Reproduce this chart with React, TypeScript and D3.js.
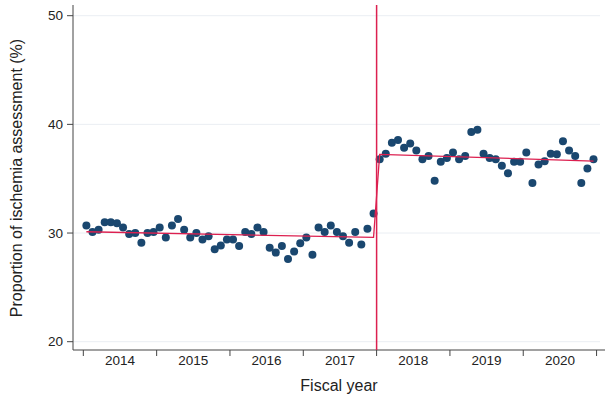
import * as d3 from 'd3';

// monthly proportions (%), fiscal years 2014-2017 (pre) and 2018-2020 (post)
const preValues = [
  30.7, 30.1, 30.3, 31.0, 31.0, 30.9, 30.5, 29.9, 30.0, 29.1, 30.0, 30.1,
  30.5, 29.6, 30.7, 31.3, 30.3, 29.6, 30.0, 29.4, 29.7, 28.5, 28.85, 29.4,
  29.4, 28.8, 30.1, 29.9, 30.5, 30.1, 28.65, 28.2, 28.8, 27.6, 28.3, 29.05,
  29.6, 28.0, 30.5, 30.1, 30.7, 30.1, 29.7, 29.1, 30.1, 28.95, 30.4, 31.8,
];
const postValues = [
  36.8, 37.3, 38.3, 38.55, 37.85, 38.25, 37.6, 36.8, 37.1, 34.8, 36.55, 36.9,
  37.4, 36.8, 37.1, 39.3, 39.5, 37.3, 36.9, 36.8, 36.2, 35.5, 36.55, 36.55,
  37.4, 34.6, 36.3, 36.6, 37.3, 37.25, 38.45, 37.6, 37.1, 34.6, 35.95, 36.8,
];
// segmented regression fit: [month index, fitted %]
const fitPoints: [number, number][] = [
  [0, 30.12],
  [47, 29.6],
  [48, 37.24],
  [83, 36.62],
];
const yearLabels = ['2014', '2015', '2016', '2017', '2018', '2019', '2020'];
const yTicks = [20, 30, 40, 50];

const W = 605;
const H = 403;
const NAVY = '#1a476f';
const RED = '#dc2050';
const FONT = '"Liberation Sans", Arial, Helvetica, sans-serif';

export default function App() {
  const values = [...preValues, ...postValues];
  const x = d3.scaleLinear().domain([-2.19, 84.88]).range([73, 605]);
  const y = d3.scaleLinear().domain([20, 50]).range([341.7, 15.7]);
  const axisBottom = 350;
  const axisTop = 5;

  const boundaries = d3.range(yearLabels.length + 1).map((k) => k * 12 - 0.5);
  const interventionX = x(preValues.length - 0.5);

  const fitLine = d3
    .line<[number, number]>()
    .x((d) => x(d[0]))
    .y((d) => y(d[1]));

  return (
    <svg
      width={W}
      height={H}
      style={{ position: 'absolute', left: 0, top: 0, background: '#fff' }}
      fontFamily={FONT}
    >
      {/* gridlines */}
      {yTicks.map((t) => (
        <line
          key={`g${t}`}
          x1={73}
          x2={600}
          y1={y(t)}
          y2={y(t)}
          stroke="#eaeef3"
          strokeWidth={1}
        />
      ))}

      {/* y axis */}
      <line x1={73} x2={73} y1={axisTop} y2={axisBottom} stroke="#444" strokeWidth={1} />
      {yTicks.map((t) => (
        <g key={`y${t}`}>
          <line x1={67} x2={73} y1={y(t)} y2={y(t)} stroke="#444" />
          <text
            x={63}
            y={y(t)}
            dy="0.35em"
            textAnchor="end"
            fontSize={13.5}
            fill="#222"
          >
            {t}
          </text>
        </g>
      ))}

      {/* x axis */}
      <line x1={73} x2={605} y1={axisBottom} y2={axisBottom} stroke="#444" strokeWidth={1} />
      {boundaries.map((b) => (
        <line
          key={`xt${b}`}
          x1={x(b)}
          x2={x(b)}
          y1={axisBottom}
          y2={axisBottom + 6}
          stroke="#444"
        />
      ))}
      {yearLabels.map((lab, k) => (
        <text
          key={lab}
          x={x(k * 12 + 5.5)}
          y={365}
          textAnchor="middle"
          fontSize={13.5}
          fill="#222"
        >
          {lab}
        </text>
      ))}

      {/* axis titles */}
      <text
        transform={`translate(22,178) rotate(-90)`}
        textAnchor="middle"
        fontSize={16}
        fill="#222"
      >
        Proportion of ischemia assessment (%)
      </text>
      <text x={339} y={391} textAnchor="middle" fontSize={16} fill="#222">
        Fiscal year
      </text>

      {/* points */}
      {values.map((v, i) => (
        <circle key={`p${i}`} cx={x(i)} cy={y(v)} r={4} fill={NAVY} />
      ))}

      {/* fitted segmented trend */}
      <path d={fitLine(fitPoints) ?? ''} fill="none" stroke={RED} strokeWidth={1.3} />

      {/* intervention line */}
      <line
        x1={interventionX}
        x2={interventionX}
        y1={axisTop}
        y2={axisBottom}
        stroke={RED}
        strokeWidth={1.5}
      />
    </svg>
  );
}
